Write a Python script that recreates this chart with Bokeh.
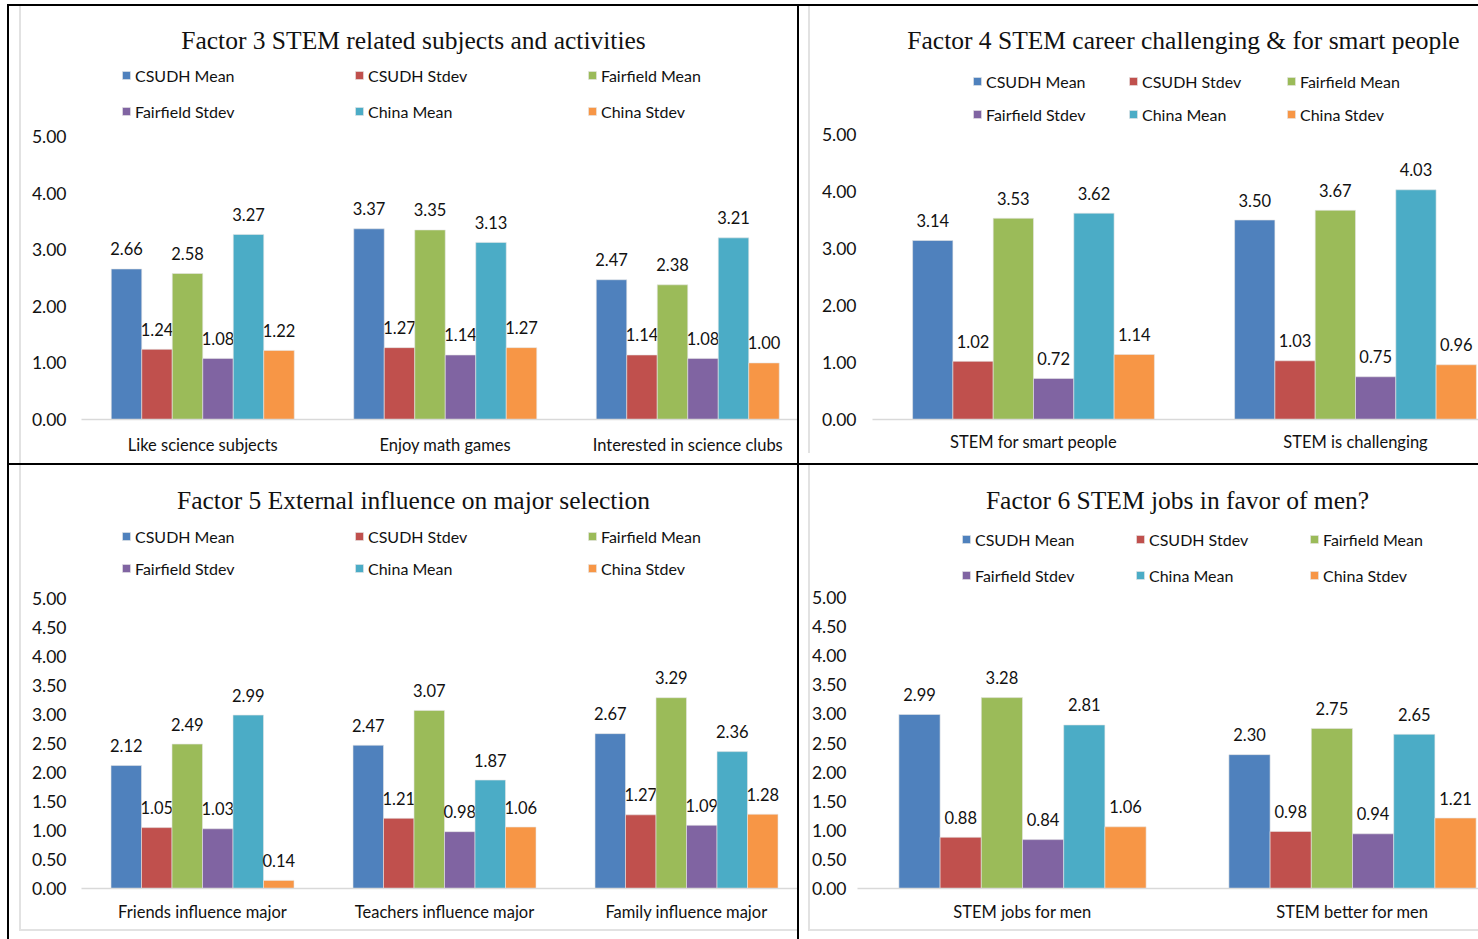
from bokeh.plotting import figure
from bokeh.models import (ColumnDataSource, Range1d, FixedTicker, Legend, LegendItem,
                          Label, PrintfTickFormatter)
from bokeh.layouts import row, column
from bokeh.embed import file_html
from bokeh.resources import INLINE
from bokeh.core.properties import value
from bokeh.transform import dodge

# ---------------- data ----------------
series = ["CSUDH Mean", "CSUDH Stdev", "Fairfield Mean", "Fairfield Stdev", "China Mean", "China Stdev"]
colors = ["#4F81BD", "#C0504D", "#9BBB59", "#8064A2", "#4BACC6", "#F79646"]

f3_title = "Factor 3 STEM related subjects and activities"
f3_cats = ["Like science subjects", "Enjoy math games", "Interested in science clubs"]
f3_csudh_mean = [2.66, 3.37, 2.47]
f3_csudh_sd = [1.24, 1.27, 1.14]
f3_ff_mean = [2.58, 3.35, 2.38]
f3_ff_sd = [1.08, 1.14, 1.08]
f3_china_mean = [3.27, 3.13, 3.21]
f3_china_sd = [1.22, 1.27, 1.00]
f3_ticks = [0, 1, 2, 3, 4, 5]

f4_title = "Factor 4 STEM career challenging & for smart people"
f4_cats = ["STEM for smart people", "STEM is challenging"]
f4_csudh_mean = [3.14, 3.50]
f4_csudh_sd = [1.02, 1.03]
f4_ff_mean = [3.53, 3.67]
f4_ff_sd = [0.72, 0.75]
f4_china_mean = [3.62, 4.03]
f4_china_sd = [1.14, 0.96]
f4_ticks = [0, 1, 2, 3, 4, 5]

f5_title = "Factor 5 External influence on major selection"
f5_cats = ["Friends influence major", "Teachers influence major", "Family influence major"]
f5_csudh_mean = [2.12, 2.47, 2.67]
f5_csudh_sd = [1.05, 1.21, 1.27]
f5_ff_mean = [2.49, 3.07, 3.29]
f5_ff_sd = [1.03, 0.98, 1.09]
f5_china_mean = [2.99, 1.87, 2.36]
f5_china_sd = [0.14, 1.06, 1.28]
f5_ticks = [0, 0.5, 1, 1.5, 2, 2.5, 3, 3.5, 4, 4.5, 5]

f6_title = "Factor 6 STEM jobs in favor of men?"
f6_cats = ["STEM jobs for men", "STEM better for men"]
f6_csudh_mean = [2.99, 2.30]
f6_csudh_sd = [0.88, 0.98]
f6_ff_mean = [3.28, 2.75]
f6_ff_sd = [0.84, 0.94]
f6_china_mean = [2.81, 2.65]
f6_china_sd = [1.06, 1.21]
f6_ticks = [0, 0.5, 1, 1.5, 2, 2.5, 3, 3.5, 4, 4.5, 5]

SANS = "Lato"
SERIF = "Liberation Serif"
GRAY = "#E2E2E2"


def area_css(ax, ab, has_bottom):
    # light Excel chart-area border painted behind the (transparent) canvas border
    layers = ["linear-gradient(%s,%s) %dpx 0px / 2px %dpx no-repeat" % (GRAY, GRAY, ax, ab)]
    if has_bottom:
        layers.append("linear-gradient(%s,%s) %dpx %dpx / 100%% 2px no-repeat" % (GRAY, GRAY, ax, ab - 2))
    layers.append("#FFFFFF")
    return {"background": ", ".join(layers)}


def make_panel(title, cats, vals, ticks, w, h, frame_left, frame_bottom, ppu, cat_px, bar_px,
               title_xy, leg_xs, leg_rows, ylab_standoff, xlab_standoff, area):
    frame_h = h - frame_bottom
    frame_w = w - frame_left
    p = figure(width=w, height=h, output_backend="svg", toolbar_location=None, title=None,
               x_range=Range1d(0, frame_w / cat_px), y_range=Range1d(0, frame_h / ppu),
               min_border_left=frame_left, min_border_right=0, min_border_top=0,
               min_border_bottom=frame_bottom, styles=area_css(*area))
    p.outline_line_color = None
    p.xgrid.visible = False
    p.ygrid.visible = False
    p.background_fill_color = "white"
    p.border_fill_color = None

    pos = [i + 0.5 for i in range(len(cats))]
    bw = bar_px / cat_px
    renderers = []
    for k, (name, col) in enumerate(zip(series, colors)):
        src = ColumnDataSource(dict(x=pos, top=vals[k], label=["%.2f" % v for v in vals[k]]))
        off = (k - 2.5) * bw
        r = p.vbar(x=dodge("x", off), top="top", width=bw, source=src, fill_color=col,
                   line_color="#E6E6E6", line_width=0.6)
        renderers.append(r)
        p.text(x=dodge("x", off), y="top", text="label", source=src, text_align="center",
               text_baseline="middle", y_offset=-20, text_font=value(SANS),
               text_font_size="16.5px", text_color="#111111")

    # y axis
    p.yaxis.ticker = FixedTicker(ticks=ticks)
    p.yaxis.formatter = PrintfTickFormatter(format="%.2f")
    p.yaxis.axis_line_color = None
    p.yaxis.major_tick_line_color = None
    p.yaxis.minor_tick_line_color = None
    p.yaxis.major_label_standoff = ylab_standoff
    p.yaxis.major_label_text_font = SANS
    p.yaxis.major_label_text_font_size = "17.5px"
    p.yaxis.major_label_text_color = "#111111"

    # x axis (categories)
    p.xaxis.ticker = FixedTicker(ticks=pos)
    p.xaxis.major_label_overrides = {pv: c for pv, c in zip(pos, cats)}
    p.xaxis.axis_line_color = "#D9D9D9"
    p.xaxis.axis_line_width = 1.5
    p.xaxis.major_tick_line_color = None
    p.xaxis.minor_tick_line_color = None
    p.xaxis.major_label_standoff = xlab_standoff
    p.xaxis.major_label_text_font = SANS
    p.xaxis.major_label_text_font_size = "16.5px"
    p.xaxis.major_label_text_color = "#111111"

    # title
    tx, ty = title_xy
    p.add_layout(Label(x=tx - frame_left, y=frame_h - ty, x_units="screen", y_units="screen",
                       text=title, text_align="center", text_baseline="middle",
                       text_font=SERIF, text_font_size="25.5px", text_color="#111111"))

    # legend: 3 columns x 2 rows
    r1, r2 = leg_rows
    gh = 10
    lh = 19
    for c in range(3):
        items = [LegendItem(label=series[c], renderers=[renderers[c]]),
                 LegendItem(label=series[c + 3], renderers=[renderers[c + 3]])]
        lg = Legend(items=items, location=(leg_xs[c] - frame_left, frame_h - (r2 + lh / 2)),
                    orientation="vertical", border_line_color=None, background_fill_alpha=0,
                    padding=0, margin=0, spacing=int(r2 - r1 - lh), glyph_width=gh,
                    glyph_height=gh, label_height=lh, label_standoff=4,
                    label_text_font=SANS, label_text_font_size="16px",
                    label_text_color="#111111")
        p.add_layout(lg)
    return p


f1 = make_panel(f3_title, f3_cats,
                [f3_csudh_mean, f3_csudh_sd, f3_ff_mean, f3_ff_sd, f3_china_mean, f3_china_sd],
                f3_ticks, w=788, h=457, frame_left=72, frame_bottom=41, ppu=57, cat_px=242.5,
                bar_px=30.5, title_xy=(404, 37), leg_xs=(112, 345, 578), leg_rows=(72, 108),
                ylab_standoff=9, xlab_standoff=9, area=(10, 457, False))
f2 = make_panel(f4_title, f4_cats,
                [f4_csudh_mean, f4_csudh_sd, f4_ff_mean, f4_ff_sd, f4_china_mean, f4_china_sd],
                f4_ticks, w=679, h=457, frame_left=73, frame_bottom=44, ppu=57, cat_px=322,
                bar_px=40.3, title_xy=(384, 34), leg_xs=(173, 329, 487), leg_rows=(75, 108),
                ylab_standoff=10, xlab_standoff=6, area=(9, 447, False))
f3 = make_panel(f5_title, f5_cats,
                [f5_csudh_mean, f5_csudh_sd, f5_ff_mean, f5_ff_sd, f5_china_mean, f5_china_sd],
                f5_ticks, w=788, h=474, frame_left=72, frame_bottom=51, ppu=58, cat_px=242,
                bar_px=30.5, title_xy=(404, 35), leg_xs=(112, 345, 578), leg_rows=(71, 103),
                ylab_standoff=9, xlab_standoff=7, area=(10, 466, True))
f4 = make_panel(f6_title, f6_cats,
                [f6_csudh_mean, f6_csudh_sd, f6_ff_mean, f6_ff_sd, f6_china_mean, f6_china_sd],
                f6_ticks, w=679, h=474, frame_left=58, frame_bottom=51, ppu=58.2, cat_px=330,
                bar_px=41.2, title_xy=(378, 35), leg_xs=(162, 336, 510), leg_rows=(74, 110),
                ylab_standoff=5, xlab_standoff=7, area=(9, 466, True))

inner = column(row(f1, f2, spacing=2), row(f3, f4, spacing=2), spacing=2, margin=(2, 0, 0, 2))
page = column(inner, margin=(4, 0, 0, 7), styles={"background-color": "black"})

open("out.html", "w").write(file_html(page, INLINE))
